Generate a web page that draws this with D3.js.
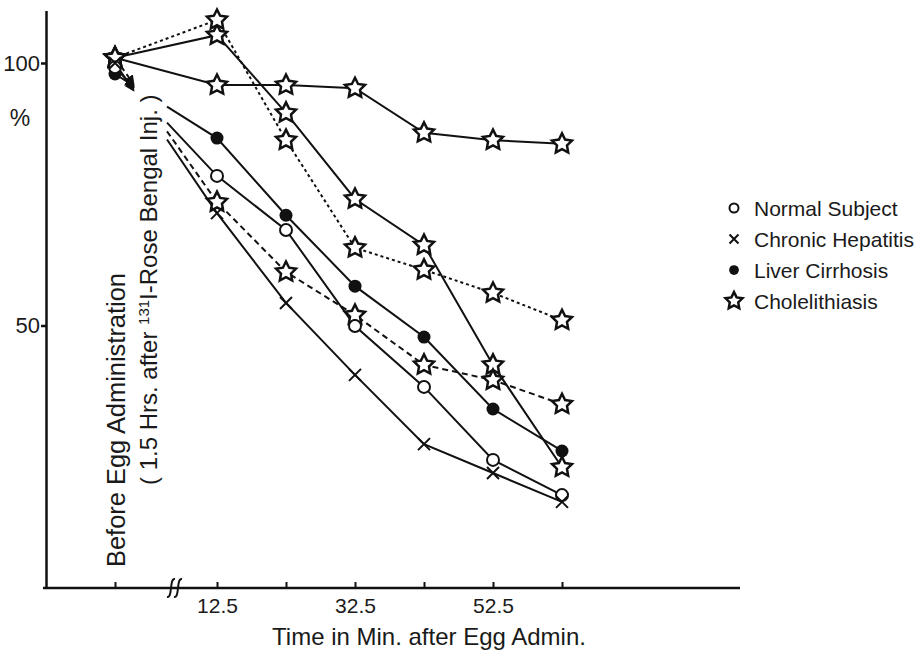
<!DOCTYPE html>
<html>
<head>
<meta charset="utf-8">
<script src="https://cdn.jsdelivr.net/npm/d3@7"></script>
<style>
  body { margin: 0; background: #fff; }
  text { fill: #1a1a1a; }
</style>
</head>
<body>
<div id="chart"></div>
<script>
    // x values: 0 stands for "before egg administration", the rest are minutes after
    var times = [0, 12.5, 22.5, 32.5, 42.5, 52.5, 62.5];
    var tickLabels = ["", "12.5", "", "32.5", "", "52.5", ""];
    var yTicks = [50, 100];

    // % values
    var normal    = [99.2, 78.5, 68.2, 49.9, 38.3, 24.4, 17.7];
    var hepatitis = [100, 71.4, 54.3, 40.6, 27.4, 21.9, 16.4];
    var cirrhosis = [97.9, 85.7, 71.0, 57.5, 47.8, 34.1, 26.1];
    var chole1    = [101, 95.8, 95.8, 95.2, 86.7, 85.3, 84.6];
    var chole2    = [101, 105.3, 90.5, 74.1, 65.3, 42.5, 23.0];
    var chole3    = [101, 108.2, 85.3, 64.8, 60.6, 56.2, 51.0];
    var chole4    = [101, 73.5, 60.2, 52.0, 42.5, 39.6, 35.0];

    var legendNames = ["Normal Subject", "Chronic Hepatitis", "Liver Cirrhosis", "Cholelithiasis"];
    var legendSymbols = ["circle", "cross", "dot", "star"];

    var series = [
      {values: chole1, symbol: "star", dash: null, broken: false},
      {values: chole2, symbol: "star", dash: null, broken: false},
      {values: chole3, symbol: "star", dash: "3,3", broken: false},
      {values: chole4, symbol: "star", dash: "6,4", broken: true},
      {values: cirrhosis, symbol: "dot", dash: null, broken: true},
      {values: normal, symbol: "circle", dash: null, broken: true},
      {values: hepatitis, symbol: "cross", dash: null, broken: true}
    ];

    var width = 924, height = 653;
    var font = "'Liberation Sans', Arial, sans-serif";

    var svg = d3.select("#chart").append("svg")
        .attr("width", width)
        .attr("height", height);

    // broken axis: "before" sits left of the break
    var x = d3.scaleLinear().domain([0, 12.5, 62.5]).range([115, 217, 562]);
    var y = d3.scaleLinear().domain([0, 110]).range([588, 10.5]);

    var axisLeftX = 46, axisRightX = 740;

    // arrow marker for the stubs at the start
    svg.append("defs").append("marker")
        .attr("id", "arrow")
        .attr("viewBox", "0 0 10 10")
        .attr("refX", 8).attr("refY", 5)
        .attr("markerWidth", 5).attr("markerHeight", 5)
        .attr("orient", "auto")
      .append("path")
        .attr("d", "M0,0 L10,5 L0,10 z")
        .attr("fill", "#111");

    // x axis
    svg.append("line")
        .attr("x1", axisLeftX - 3).attr("x2", axisRightX)
        .attr("y1", y(0)).attr("y2", y(0))
        .attr("stroke", "#111").attr("stroke-width", 2.5);

    var gx = svg.append("g")
        .attr("transform", "translate(0," + y(0) + ")")
        .call(d3.axisBottom(x).tickValues(times).tickSizeInner(-6).tickSizeOuter(0)
              .tickFormat(function(d, i) { return tickLabels[i]; }));
    gx.select(".domain").remove();
    gx.selectAll(".tick line").attr("stroke", "#111").attr("stroke-width", 2);
    gx.selectAll(".tick text")
        .attr("y", 10)
        .style("font-family", font)
        .style("font-size", "21px")
        .attr("fill", "#1a1a1a");

    // axis break mark
    [171, 178].forEach(function(bx) {
      var p = d3.path();
      p.moveTo(bx - 4, y(0) + 9);
      p.bezierCurveTo(bx + 2, y(0) + 10, bx - 2, y(0) - 10, bx + 4, y(0) - 9);
      svg.append("path").attr("d", p.toString())
          .attr("fill", "none").attr("stroke", "#111").attr("stroke-width", 2);
    });

    // y axis
    var gy = svg.append("g")
        .attr("transform", "translate(" + axisLeftX + ",0)")
        .call(d3.axisLeft(y).tickValues(yTicks).tickSizeInner(5).tickSizeOuter(0).tickPadding(1)
              .tickFormat(d3.format("d")));
    gy.select(".domain").attr("stroke", "#111").attr("stroke-width", 2.5);
    gy.selectAll(".tick line").attr("stroke", "#111").attr("stroke-width", 2.5);
    gy.selectAll(".tick text")
        .style("font-family", font)
        .style("font-size", "22px")
        .attr("fill", "#1a1a1a");

    svg.append("text")
        .attr("x", 20).attr("y", y(88))
        .attr("text-anchor", "middle")
        .style("font-family", font)
        .style("font-size", "23px")
        .text("%");

    // x axis title
    svg.append("text")
        .attr("x", 429).attr("y", 645)
        .attr("text-anchor", "middle")
        .style("font-family", font)
        .style("font-size", "24px")
        .text("Time in Min. after Egg Admin.");

    // rotated note at the "before" point
    svg.append("text")
        .attr("transform", "translate(125,567) rotate(-90)")
        .style("font-family", font)
        .style("font-size", "25px")
        .attr("textLength", 294)
        .attr("lengthAdjust", "spacingAndGlyphs")
        .text("Before Egg Administration");

    var note = svg.append("text")
        .attr("transform", "translate(157,485) rotate(-90)")
        .style("font-family", font)
        .style("font-size", "24px");
    note.append("tspan").text("( 1.5 Hrs. after ");
    note.append("tspan").attr("dy", -8).style("font-size", "15px").text("131");
    note.append("tspan").attr("dy", 8).text("I-Rose Bengal Inj. )");

    // symbols
    function starPath(r) {
      var p = d3.path(), ri = r * 0.5;
      for (var k = 0; k < 10; k++) {
        var a = -Math.PI / 2 + k * Math.PI / 5;
        var rr = k % 2 ? ri : r;
        if (k === 0) p.moveTo(rr * Math.cos(a), rr * Math.sin(a));
        else p.lineTo(rr * Math.cos(a), rr * Math.sin(a));
      }
      p.closePath();
      return p.toString();
    }

    function drawSymbol(g, type, scale) {
      if (type === "circle") {
        g.append("circle").attr("r", 6 * scale).attr("fill", "#fff")
            .attr("stroke", "#111").attr("stroke-width", 2);
      } else if (type === "dot") {
        g.append("circle").attr("r", 6.5 * scale).attr("fill", "#111");
      } else if (type === "cross") {
        var s = 6 * scale;
        g.append("path").attr("d", "M" + -s + "," + -s + "L" + s + "," + s + "M" + -s + "," + s + "L" + s + "," + -s)
            .attr("stroke", "#111").attr("stroke-width", 2);
      } else {
        g.append("path").attr("d", starPath(10.5 * scale)).attr("fill", "#fff")
            .attr("stroke", "#111").attr("stroke-width", 2.5).attr("stroke-linejoin", "miter");
      }
    }

    var line = d3.line();
    var stubFrac = 0.18, resumeX = 167;

    series.forEach(function(s) {
      var pts = s.values.map(function(v, i) { return [x(times[i]), y(v)]; });
      var segs = [];
      if (s.broken) {
        var p0 = pts[0], p1 = pts[1];
        var interp = d3.interpolate(p0, p1);
        var tRes = (resumeX - p0[0]) / (p1[0] - p0[0]);
        svg.append("path")
            .attr("d", line([p0, interp(stubFrac)]))
            .attr("fill", "none").attr("stroke", "#111").attr("stroke-width", 2)
            .attr("stroke-dasharray", s.dash)
            .attr("marker-end", "url(#arrow)");
        segs = [interp(tRes)].concat(pts.slice(1));
      } else {
        segs = pts;
      }
      svg.append("path")
          .attr("d", line(segs))
          .attr("fill", "none")
          .attr("stroke", "#111")
          .attr("stroke-width", 2)
          .attr("stroke-dasharray", s.dash);
    });

    series.forEach(function(s) {
      s.values.forEach(function(v, i) {
        var g = svg.append("g").attr("transform", "translate(" + x(times[i]) + "," + y(v) + ")");
        drawSymbol(g, s.symbol, 1);
      });
    });

    // legend
    var legend = svg.append("g").attr("class", "legend");
    legendNames.forEach(function(name, i) {
      var row = legend.append("g").attr("transform", "translate(734," + (208 + i * 31) + ")");
      drawSymbol(row.append("g"), legendSymbols[i], legendSymbols[i] === "star" ? 0.85 : 0.75);
      row.append("text")
          .attr("x", 20).attr("dy", "0.36em")
          .style("font-family", font)
          .style("font-size", "21px")
          .text(name);
    });
</script>
</body>
</html>
